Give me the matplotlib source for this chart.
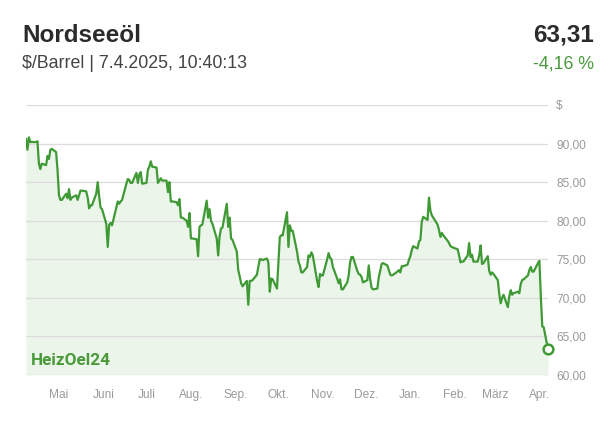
import matplotlib
matplotlib.use("Agg")
import matplotlib.pyplot as plt
import pandas as pd
import numpy as np

plt.rcParams['font.family'] = ['Liberation Sans', 'DejaVu Sans']

# ---- data ----
title = "Nordseeöl"
subtitle = "$/Barrel | 7.4.2025, 10:40:13"
last_price_text = "63,31"
change_text = "-4,16 %"
end_date = "2025-04-07"

prices = [
    90.6, 89.2, 90.8, 90.2, 90.2, 90.2, 90.3, 87.4, 86.7, 87.4,
    87.2, 88.4, 88.0, 89.2, 89.3, 88.9, 86.5, 83.3, 82.7, 82.7,
    83.5, 82.9, 84.1, 82.7, 83.0, 83.3, 82.7, 83.3, 83.9, 83.9,
    83.8, 83.0, 81.6, 82.0, 82.0, 83.5, 85.0, 83.2, 81.7, 81.5,
    79.6, 76.6, 79.5, 79.7, 79.4, 81.7, 82.5, 82.2, 82.5, 82.7,
    84.8, 85.4, 85.3, 84.9, 84.9, 86.2, 84.9, 86.0, 86.3, 84.8,
    84.9, 86.6, 87.0, 87.7, 87.0, 86.9, 84.9, 85.2, 85.5, 85.2,
    85.2, 83.7, 85.0, 82.5, 82.5, 82.4, 82.0, 82.8, 80.4, 80.4,
    80.0, 79.2, 81.0, 77.7, 77.7, 77.6, 75.4, 79.2, 79.4, 79.5,
    82.6, 80.4, 81.5, 80.0, 79.6, 77.7, 75.5, 78.0, 79.0, 79.1,
    82.2, 79.2, 80.4, 77.7, 77.5, 76.0, 73.6, 72.8, 71.9, 71.5,
    72.2, 69.1, 72.2, 72.2, 72.3, 73.0, 74.0, 75.0, 75.0, 74.9,
    75.1, 74.6, 70.8, 72.5, 72.4, 71.2, 74.5, 77.9, 78.1, 78.1,
    81.1, 76.6, 79.4, 78.7, 78.7, 76.0, 74.7, 74.2, 73.3, 73.3,
    74.0, 75.5, 75.3, 75.9, 75.5, 72.2, 71.4, 73.1, 72.9, 72.9,
    75.0, 75.8, 75.2, 75.0, 74.0, 72.5, 71.9, 72.4, 71.1, 71.1,
    72.0, 72.9, 74.6, 75.3, 75.3, 73.5, 73.1, 73.0, 72.7, 72.0,
    72.3, 74.2, 72.4, 71.3, 71.1, 71.2, 72.7, 73.5, 74.4, 74.5,
    74.2, 73.6, 73.0, 72.9, 73.0, 73.4, 73.6, 73.3, 74.1, 74.1,
    74.3, 74.9, 75.4, 76.2, 76.7, 76.4, 77.3, 77.5, 79.9, 80.5,
    80.1, 83.0, 81.3, 80.7, 80.4, 79.5, 78.8, 77.9, 78.4, 78.1,
    77.4, 77.1, 76.7, 76.6, 76.5, 76.3, 75.5, 74.6, 74.7, 74.7,
    75.5, 77.1, 75.3, 75.6, 74.7, 74.7, 75.5, 76.8, 74.4, 74.5,
    75.4, 73.5, 73.0, 73.3, 73.1, 72.3, 70.5, 69.3, 70.0, 70.4,
    68.8, 70.2, 71.0, 70.4, 70.6, 70.8, 70.6, 71.8, 72.3, 72.4,
    72.9, 73.6, 74.0, 73.4, 73.4, 74.5, 74.8, 70.2, 66.3, 66.2,
    63.31,
]

y_ticks = [60, 65, 70, 75, 80, 85, 90, 95]
y_tick_labels = ["60,00", "65,00", "70,00", "75,00", "80,00", "85,00", "90,00", "$"]
month_starts = ["2024-05-01", "2024-06-01", "2024-07-01", "2024-08-01", "2024-09-01",
                "2024-10-01", "2024-11-01", "2024-12-01", "2025-01-01", "2025-02-01",
                "2025-03-01", "2025-04-01"]
month_labels = ["Mai", "Juni", "Juli", "Aug.", "Sep.", "Okt.", "Nov.", "Dez.",
                "Jan.", "Feb.", "März", "Apr."]

dates = pd.bdate_range(end=end_date, periods=len(prices))

# ---- style ----
line_color = "#3f9a35"
fill_color = "#ebf5ea"
grid_color = "#dcdcdc"
label_color = "#9a9a9a"

W, H = 615, 423
fig = plt.figure(figsize=(W / 100, H / 100), dpi=100)
ax = fig.add_axes([26 / W, 1 - 375 / H, (548 - 26) / W, (375 - 105) / H])

ax.fill_between(dates, prices, 60, color=fill_color, lw=0, zorder=1)
ax.plot(dates, prices, color=line_color, lw=1.6, zorder=3)
ax.plot(dates[-1], prices[-1], 'o', ms=7, mfc='white', mec=line_color, mew=1.8, zorder=4,
        clip_on=False)

ax.set_ylim(60, 95)
ax.set_xlim(dates[0], dates[-1])
ax.set_yticks(y_ticks)
ax.set_yticklabels(y_tick_labels)
ax.yaxis.tick_right()
ax.tick_params(axis='y', length=0, pad=6, labelsize=8.6, labelcolor=label_color)
ax.set_xticks(pd.to_datetime(month_starts))
ax.set_xticklabels(month_labels)
ax.tick_params(axis='x', length=0, pad=10, labelsize=8.6, labelcolor=label_color)
ax.grid(axis='y', color=grid_color, lw=0.9, zorder=2)
ax.grid(axis='x', visible=False)
for s in ax.spines.values():
    s.set_visible(False)
ax.set_facecolor('none')

# header texts
fig.text(22 / W, 1 - 35 / H, title, fontsize=17.5, fontweight='bold', color='#2b2b2b',
         ha='left', va='center')
fig.text(22 / W, 1 - 64 / H, subtitle, fontsize=12.8, color='#444444', ha='left', va='center')
fig.text(594 / W, 1 - 35 / H, last_price_text, fontsize=17.5, fontweight='bold',
         color='#2b2b2b', ha='right', va='center')
fig.text(594 / W, 1 - 64 / H, change_text, fontsize=12.8, color='#4a9a3e', ha='right',
         va='center')

# watermark
fig.text(31 / W, 1 - 360 / H, "HeizOel24", fontsize=12.3, fontweight='bold',
         color='#4a9a3a', ha='left', va='center',
         family=['Liberation Sans Narrow', 'Roboto', 'DejaVu Sans'])

fig.savefig("out.png", dpi=100)
